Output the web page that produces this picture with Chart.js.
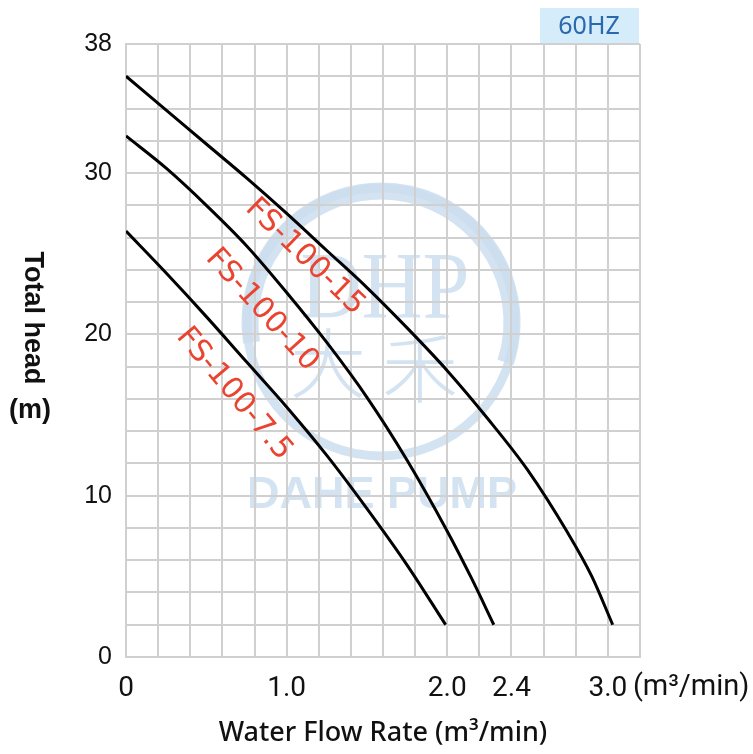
<!DOCTYPE html>
<html>
<head>
<meta charset="utf-8">
<script src="https://cdn.jsdelivr.net/npm/chart.js@4"></script>
<style>
    html, body { margin: 0; padding: 0; background: #fff; }
    #wrap { width: 753px; height: 754px; position: relative; }
</style>
</head>
<body>
<div id="wrap"><canvas id="chartPump" width="753" height="754"></canvas></div>
<script>
// flow (m3/min) and head (m)
let flow15 = [0, 0.25, 0.5, 0.75, 1.0, 1.25, 1.5, 1.75, 2.0, 2.25, 2.5, 2.75, 2.9, 3.03];
let head15 = [36.0, 33.9, 31.8, 29.7, 27.5, 25.2, 22.9, 20.4, 17.75, 14.8, 11.6, 7.7, 5.0, 2.0];

let flow10 = [0, 0.25, 0.5, 0.75, 1.0, 1.25, 1.5, 1.75, 2.0, 2.15, 2.29];
let head10 = [32.3, 30.3, 28.0, 25.5, 22.6, 19.5, 16.1, 12.2, 7.8, 4.9, 2.0];

let flow75 = [0, 0.25, 0.5, 0.75, 1.0, 1.25, 1.5, 1.75, 1.99];
let head75 = [26.4, 23.8, 21.1, 18.3, 15.5, 12.5, 9.2, 5.7, 2.0];

let seriesNames = ["FS-100-15", "FS-100-10", "FS-100-7.5"];

let xLabelValues = [0, 1.0, 2.0, 2.4, 3.0];
let xLabelTexts = ["0", "1.0", "2.0", "2.4", "3.0"];
let yLabelValues = [0, 10, 20, 30, 38];

// where the model names sit (flow, head) and their tilt
let nameSpots = [[1.114, 24.8, 44], [0.847, 21.5, 48], [0.672, 16.3, 50]];

function toPoints(xs, ys) {
    return xs.map((x, i) => ({ x: x, y: ys[i] }));
}

function curve(xs, ys) {
    return {
        data: toPoints(xs, ys),
        showLine: true,
        borderColor: "#000",
        borderWidth: 3,
        pointRadius: 0,
        fill: false,
        cubicInterpolationMode: "monotone"
    };
}

const watermark = {
    id: "watermark",
    beforeDraw(chart) {
        let ctx = chart.ctx;
        ctx.save();
        let c = "rgba(205,222,238,0.85)";
        ctx.strokeStyle = c;
        ctx.fillStyle = c;
        // brush-like ring: thick on top, thinner lower down
        ctx.lineWidth = 9;
        ctx.beginPath();
        ctx.arc(381, 322, 134, 0, Math.PI * 2);
        ctx.stroke();
        ctx.lineWidth = 17;
        ctx.beginPath();
        ctx.arc(381, 322, 131, Math.PI * 0.95, Math.PI * 2.1);
        ctx.stroke();

        ctx.textAlign = "center";
        ctx.textBaseline = "alphabetic";
        ctx.save();
        ctx.translate(385, 318);
        ctx.scale(0.88, 1);
        ctx.font = "96px 'Liberation Serif'";
        ctx.fillText("DHP", 0, 0);
        ctx.restore();

        ctx.font = "300 76px 'Noto Sans CJK SC'";
        ctx.textBaseline = "middle";
        ctx.fillText("大", 328, 363);
        ctx.fillText("禾", 420, 368);

        ctx.font = "bold 45px 'Liberation Sans'";
        ctx.textBaseline = "middle";
        ctx.fillText("DAHE PUMP", 382, 496);
        ctx.restore();
    }
};

const extras = {
    id: "extras",
    afterDraw(chart) {
        let ctx = chart.ctx;
        let xs = chart.scales.x;
        let ys = chart.scales.y;
        ctx.save();

        // model names along the curves
        ctx.fillStyle = "#ea4330";
        ctx.font = "30px 'DejaVu Sans'";
        ctx.textAlign = "center";
        ctx.textBaseline = "middle";
        nameSpots.forEach((s, i) => {
            ctx.save();
            ctx.translate(xs.getPixelForValue(s[0]), ys.getPixelForValue(s[1]));
            ctx.rotate(s[2] * Math.PI / 180);
            ctx.fillText(seriesNames[i], 0, 0);
            ctx.restore();
        });

        // frequency tag
        ctx.fillStyle = "#d5ecfa";
        ctx.fillRect(540, 8, 99, 35);
        ctx.fillStyle = "#2a69ad";
        ctx.font = "25px 'Noto Sans'";
        ctx.fillText("60HZ", 589, 27);

        // unit after the last flow label
        ctx.fillStyle = "#111";
        ctx.font = "29px Roboto";
        ctx.textAlign = "left";
        ctx.fillText("(m³/min)", xs.getPixelForValue(3.0) + 25, 688);

        // y title
        ctx.font = "bold 27px 'Liberation Sans'";
        ctx.save();
        ctx.translate(32, 318);
        ctx.rotate(Math.PI / 2);
        ctx.textAlign = "center";
        ctx.fillText("Total head", 0, 0);
        ctx.restore();
        ctx.textAlign = "center";
        ctx.fillText("(m)", 30, 411);

        ctx.restore();
    }
};

function near(v, list) {
    return list.findIndex(t => Math.abs(t - v) < 1e-6);
}

new Chart(document.getElementById("chartPump"), {
    type: "scatter",
    data: {
        datasets: [curve(flow15, head15), curve(flow10, head10), curve(flow75, head75)]
    },
    options: {
        responsive: false,
        animation: false,
        layout: { padding: { top: 44, right: 113, left: 0, bottom: 0 } },
        plugins: { legend: { display: false }, tooltip: { enabled: false } },
        scales: {
            x: {
                type: "linear",
                min: 0,
                max: 3.2,
                afterFit: s => { s.height = 97; },
                grid: { color: "#d0d0d0", lineWidth: 2, drawTicks: false },
                border: { color: "#d0d0d0", width: 2 },
                ticks: {
                    stepSize: 0.2,
                    autoSkip: false,
                    maxRotation: 0,
                    padding: 15,
                    color: "#111",
                    font: { family: "Roboto", size: 28 },
                    callback: v => {
                        let i = near(v, xLabelValues);
                        return i < 0 ? "" : xLabelTexts[i];
                    }
                },
                title: {
                    display: true,
                    text: "Water Flow Rate (m³/min)",
                    color: "#111",
                    font: { family: "'Noto Sans'", size: 27, weight: "500" },
                    padding: { top: 12 }
                }
            },
            y: {
                type: "linear",
                min: 0,
                max: 38,
                afterFit: s => { s.width = 126; },
                grid: { color: "#d0d0d0", lineWidth: 2, drawTicks: false },
                border: { color: "#d0d0d0", width: 2 },
                ticks: {
                    stepSize: 2,
                    autoSkip: false,
                    padding: 14,
                    color: "#111",
                    font: { family: "'Liberation Sans'", size: 25 },
                    callback: v => near(v, yLabelValues) < 0 ? "" : String(v)
                }
            }
        }
    },
    plugins: [watermark, extras]
});
</script>
</body>
</html>
